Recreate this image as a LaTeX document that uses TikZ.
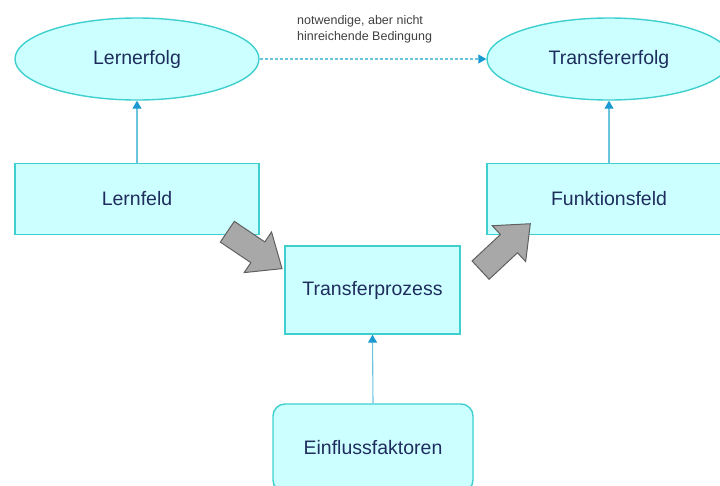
\documentclass[tikz,border=0pt]{standalone}
\usepackage{fontspec}
\setmainfont{Liberation Sans}
\usetikzlibrary{arrows.meta, shapes.geometric, shapes.arrows}
\definecolor{feldfill}{HTML}{CCFFFF}
\definecolor{feldrand}{HTML}{3FCFCF}
\definecolor{schrift}{HTML}{1F2D5E}
\definecolor{linie}{HTML}{6CC5DE}
\definecolor{spitze}{HTML}{1A9AD0}
\tikzset{
  feld/.style={draw=feldrand, fill=feldfill, line width=1.4pt, text=schrift,
    font=\fontsize{19.5}{23}\selectfont, inner sep=0pt},
  erfolg/.style={feld, ellipse, minimum width=244pt, minimum height=82pt},
  kasten/.style={feld, rectangle},
  pfeil/.style={draw=linie, line width=1.1pt, -{Triangle[width=9pt,length=8pt,color=spitze]}},
  blockpfeil/.style={single arrow, draw=gray!75!black, fill=gray!68, line width=1pt,
    inner xsep=0pt, inner ysep=12pt, single arrow head extend=12pt,
    single arrow tip angle=80}
}
\begin{document}
\begin{tikzpicture}[x=1pt, y=-1pt]
  \useasboundingbox (0,0) rectangle (720,485);
  \clip (0,0) rectangle (720,485);

  % Ziele oben
  \node[erfolg] (lernerfolg) at (137,59) {Lernerfolg};
  \node[erfolg] (transfererfolg) at (609,59) {Transfererfolg};

  % Felder
  \node[kasten, minimum width=244pt, minimum height=71pt] (lernfeld) at (137,199) {Lernfeld};
  \node[kasten, minimum width=244pt, minimum height=71pt] (funktionsfeld) at (609,199) {Funktionsfeld};

  % Prozess und Einfluss
  \node[kasten, minimum width=175pt, minimum height=88pt] (prozess) at (372.5,290) {Transferprozess};
  \node[kasten, rounded corners=12pt, minimum width=200pt, minimum height=88pt]
    (einfluss) at (373,448) {Einflussfaktoren};

  % Verbindungen
  \draw[pfeil] (lernfeld.north) -- (lernerfolg.south);
  \draw[pfeil] (funktionsfeld.north) -- (transfererfolg.south);
  \draw[pfeil] (einfluss.north) -- (prozess.south);
  \draw[pfeil, dash pattern=on 3pt off 2pt] (lernerfolg.east) -- (transfererfolg.west);
  \node[anchor=south west, align=left, text=black!75, inner sep=0pt,
    font=\fontsize{12.5}{16}\selectfont] (bedingung) at (297,43)
    {notwendige, aber nicht\\hinreichende Bedingung};

  % Blockpfeile
  \node[blockpfeil, rotate=-34, minimum height=66pt] (pfeilein) at (248.5,246) {};
  \node[blockpfeil, rotate=43, minimum height=68pt] (pfeilaus) at (500,252) {};
\end{tikzpicture}
\end{document}
